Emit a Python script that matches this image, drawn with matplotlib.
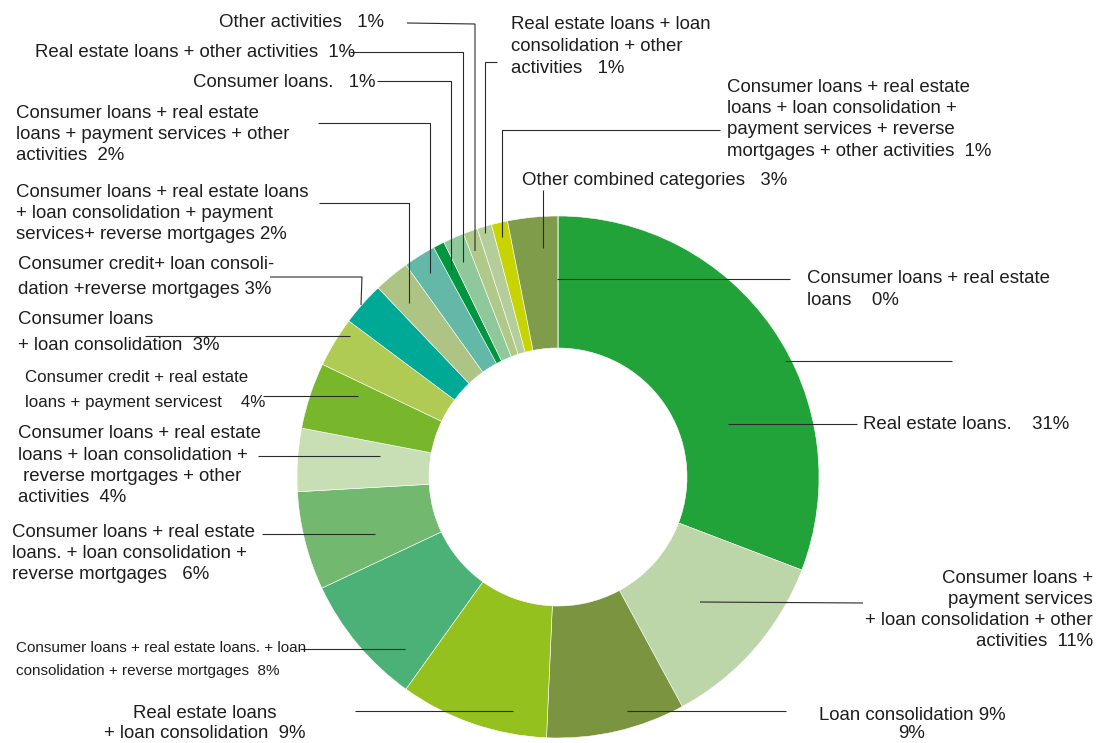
import matplotlib
matplotlib.use("Agg")
import matplotlib.pyplot as plt

# ── canvas in pixel units (y measured from the top) ──
W, H = 1100, 743

# ── data, clockwise from 12 o'clock ──
categories = [
    "Real estate loans.",
    "Consumer loans + payment services + loan consolidation + other activities",
    "Loan consolidation",
    "Real estate loans + loan consolidation",
    "Consumer loans + real estate loans. + loan consolidation + reverse mortgages",
    "Consumer loans + real estate loans. + loan consolidation + reverse mortgages (2)",
    "Consumer loans + real estate loans + loan consolidation + reverse mortgages + other activities",
    "Consumer credit + real estate loans + payment servicest",
    "Consumer loans + loan consolidation",
    "Consumer credit+ loan consolidation +reverse mortgages",
    "Consumer loans + real estate loans + loan consolidation + payment services+ reverse mortgages",
    "Consumer loans + real estate loans + payment services + other activities",
    "Consumer loans.",
    "Real estate loans + other activities",
    "Other activities",
    "Real estate loans + loan consolidation + other activities",
    "Consumer loans + real estate loans + loan consolidation + payment services + reverse mortgages + other activities",
    "Other combined categories",
    "Consumer loans + real estate loans",
]
shares = [30.8, 11.3, 8.6, 9.2, 8.1, 6.1, 3.9, 4.1, 3.1, 2.7, 2.2, 2.0,
          0.7, 1.3, 0.9, 0.9, 1.0, 3.1, 0.0]
colors = ["#21a33a", "#bcd6a9", "#7a9440", "#95c11f", "#4bb176", "#72b96f",
          "#c8dfb5", "#78b72b", "#b0cb53", "#00a896", "#adc485", "#63b8a7",
          "#00963f", "#8fc89b", "#b0c888", "#b5cd9a", "#c8d400", "#7f9c4a",
          "#7f9c4a"]
label_texts = [
    "Real estate loans.    31%",
    "Consumer loans +\npayment services\n+ loan consolidation + other\nactivities  11%",
    "Loan consolidation 9%\n9%",
    "Real estate loans\n+ loan consolidation  9%",
    "Consumer loans + real estate loans. + loan\nconsolidation + reverse mortgages  8%",
    "Consumer loans + real estate\nloans. + loan consolidation +\nreverse mortgages   6%",
    "Consumer loans + real estate\nloans + loan consolidation +\n reverse mortgages + other\nactivities  4%",
    "Consumer credit + real estate\nloans + payment servicest    4%",
    "Consumer loans\n+ loan consolidation  3%",
    "Consumer credit+ loan consoli-\ndation +reverse mortgages 3%",
    "Consumer loans + real estate loans\n+ loan consolidation + payment\nservices+ reverse mortgages 2%",
    "Consumer loans + real estate\nloans + payment services + other\nactivities  2%",
    "Consumer loans.   1%",
    "Real estate loans + other activities  1%",
    "Other activities   1%",
    "Real estate loans + loan\nconsolidation + other\nactivities   1%",
    "Consumer loans + real estate\nloans + loan consolidation +\npayment services + reverse\nmortgages + other activities  1%",
    "Other combined categories   3%",
    "Consumer loans + real estate\nloans    0%",
]

# ── layout (pixels): x, first baseline, alignment, line step, size ──
label_pos = [
    (863, 429, "left", 21.0, 13.4),
    (1093, 583, "right", 21.0, 13.4),
    (912, 720, "center", 18.0, 13.4),
    (205, 718, "center", 20.0, 13.4),
    (16, 652, "left", 22.5, 11.0),
    (12, 537, "left", 21.0, 13.4),
    (18, 438, "left", 21.5, 13.4),
    (25, 382, "left", 25.0, 12.2),
    (18, 324, "left", 26.0, 13.4),
    (18, 269, "left", 25.0, 13.4),
    (16, 197, "left", 20.8, 13.4),
    (16, 118, "left", 21.0, 13.4),
    (193, 87, "left", 21.0, 13.4),
    (35, 57, "left", 21.0, 13.4),
    (219, 27, "left", 21.0, 13.4),
    (511, 29, "left", 21.8, 13.4),
    (727, 92, "left", 21.2, 13.4),
    (522, 185, "left", 21.0, 13.4),
    (807, 283, "left", 22.0, 13.4),
]
leader_paths = [
    [(728, 424), (857, 424)],
    [(700, 602), (863, 603)],
    [(627, 711), (786, 711)],
    [(355, 711), (513, 711)],
    [(300, 649), (405, 649)],
    [(262, 534), (375, 534)],
    [(258, 456), (380, 456)],
    [(263, 396), (358, 396)],
    [(145, 336), (350, 336)],
    [(270, 277), (362, 277), (361, 305)],
    [(319, 203), (409, 203), (409, 303)],
    [(318, 123), (430, 123), (430, 273)],
    [(377, 81), (451, 81), (451, 270)],
    [(350, 52), (463, 52), (463, 262)],
    [(407, 23), (475, 24), (475, 251)],
    [(497, 62), (485, 62), (485, 233)],
    [(720, 130), (502, 130), (502, 237)],
    [(543, 190), (543, 248)],
    [(557, 279), (790, 279)],
]
extra_line = [(785, 361), (952, 361)]

center_px = (558, 477)
r_outer, r_inner = 261, 129

FONT = "Liberation Sans"
TEXT_COLOR = "#1e1e1e"
LINE_COLOR = "#2b2b2b"


def Y(py):
    return H - py


fig = plt.figure(figsize=(W / 100, H / 100), dpi=100)
ax = fig.add_axes([0, 0, 1, 1])

ax.pie(
    shares,
    colors=colors,
    radius=r_outer,
    center=(center_px[0], Y(center_px[1])),
    startangle=90,
    counterclock=False,
    wedgeprops=dict(width=r_outer - r_inner, edgecolor="white", linewidth=0.4),
)

for path in leader_paths + [extra_line]:
    xs = [p[0] for p in path]
    ys = [Y(p[1]) for p in path]
    ax.plot(xs, ys, color=LINE_COLOR, linewidth=0.8, solid_capstyle="butt")

for text, (x, y0, ha, step, size) in zip(label_texts, label_pos):
    for i, line in enumerate(text.split("\n")):
        ax.text(x, Y(y0 + i * step), line, ha=ha, va="baseline",
                fontsize=size, family=FONT, color=TEXT_COLOR)

ax.set_xlim(0, W)
ax.set_ylim(0, H)
ax.set_aspect("equal")
ax.axis("off")

fig.savefig("out.png", dpi=100, facecolor="white")
plt.close(fig)
